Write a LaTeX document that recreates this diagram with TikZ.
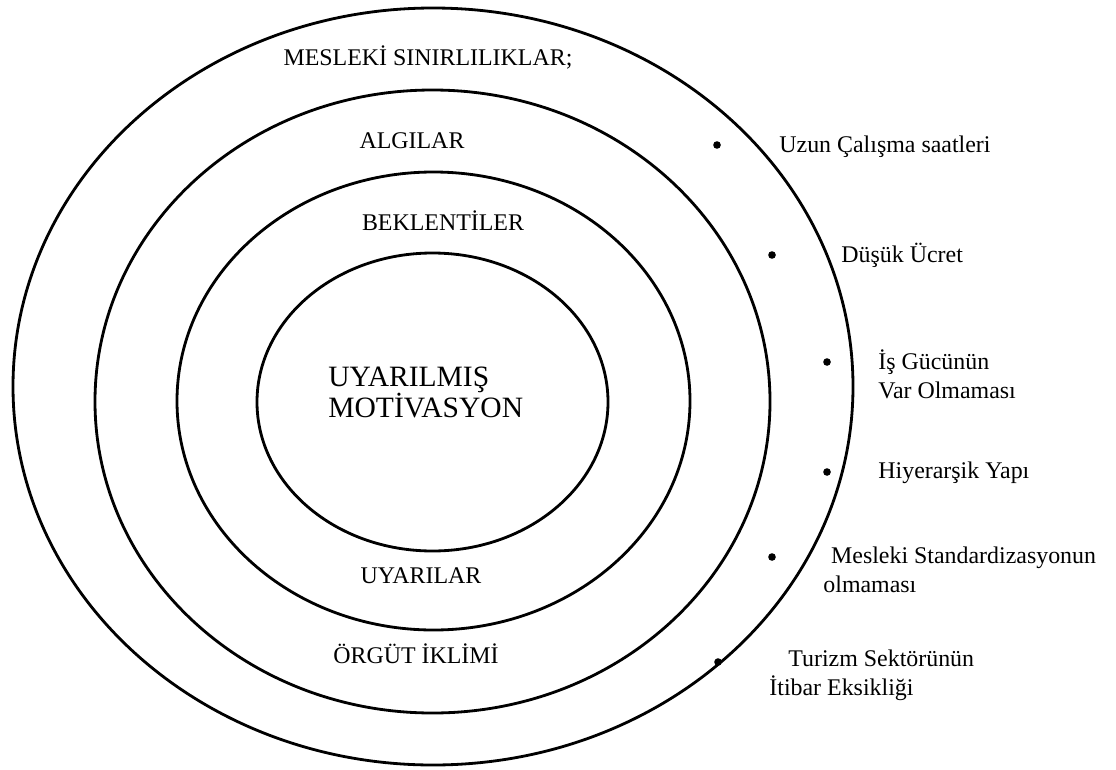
\documentclass[tikz,border=0pt]{standalone}
\usepackage{fontspec}
\setmainfont{LiberationSerif}[Extension=.ttf,UprightFont=*-Regular,BoldFont=*-Bold]

\begin{document}
\begin{tikzpicture}[x=0.025cm,y=-0.025cm,line width=2pt,
  katman/.style={font=\rmfamily\fontsize{17}{20}\selectfont,anchor=base,inner sep=0pt},
  madde/.style={font=\rmfamily\fontsize{17}{20}\selectfont,anchor=base west,align=left,inner sep=0pt},
  nokta/.style={circle,fill,inner sep=0pt,minimum size=0.19cm}]
  \useasboundingbox (0,0) rectangle (1116,769);
  % elipsler (distan ice)
  \draw (433,386.5) ellipse [x radius=420,y radius=378.5];
  \draw (432.5,401.5) ellipse [x radius=337.5,y radius=311.5];
  \draw (433.5,401) ellipse [x radius=256.5,y radius=229];
  \draw (432.5,402) ellipse [x radius=175.5,y radius=149];
  % katman etiketleri
  \node[katman] (mes) at (428,65) {MESLEKİ SINIRLILIKLAR;};
  \node[katman] (alg) at (412,148) {ALGILAR};
  \node[katman] (bek) at (443,230) {BEKLENTİLER};
  \node[katman] (uya) at (421,583) {UYARILAR};
  \node[katman] (org) at (416,663) {ÖRGÜT İKLİMİ};
  \node[font=\rmfamily\fontsize{21}{22}\selectfont,anchor=west,align=left,inner sep=0pt] (mot) at (327,392) {UYARILMIŞ\\MOTİVASYON};
  % maddeler (son satirin taban cizgisi)
  \node[nokta] (n1) at (717,145) {};
  \node[madde] (m1) at (778,152) {Uzun Çalışma saatleri};
  \node[nokta] (n2) at (772,255) {};
  \node[madde] (m2) at (840,262) {Düşük Ücret};
  \node[nokta] (n3) at (827,362) {};
  \node[madde] (m3) at (877,398) {İş Gücünün\\Var Olmaması};
  \node[nokta] (n4) at (827,472) {};
  \node[madde] (m4) at (877,478) {Hiyerarşik Yapı};
  \node[nokta] (n5) at (772,557) {};
  \node[madde] (m5) at (822,592) {\hspace{5.5pt}Mesleki Standardizasyonun\\olmaması};
  \node[nokta] (n6) at (718,662) {};
  \node[madde] (m6) at (768,695) {\hspace{13.5pt}Turizm Sektörünün\\İtibar Eksikliği};
\end{tikzpicture}
\end{document}
